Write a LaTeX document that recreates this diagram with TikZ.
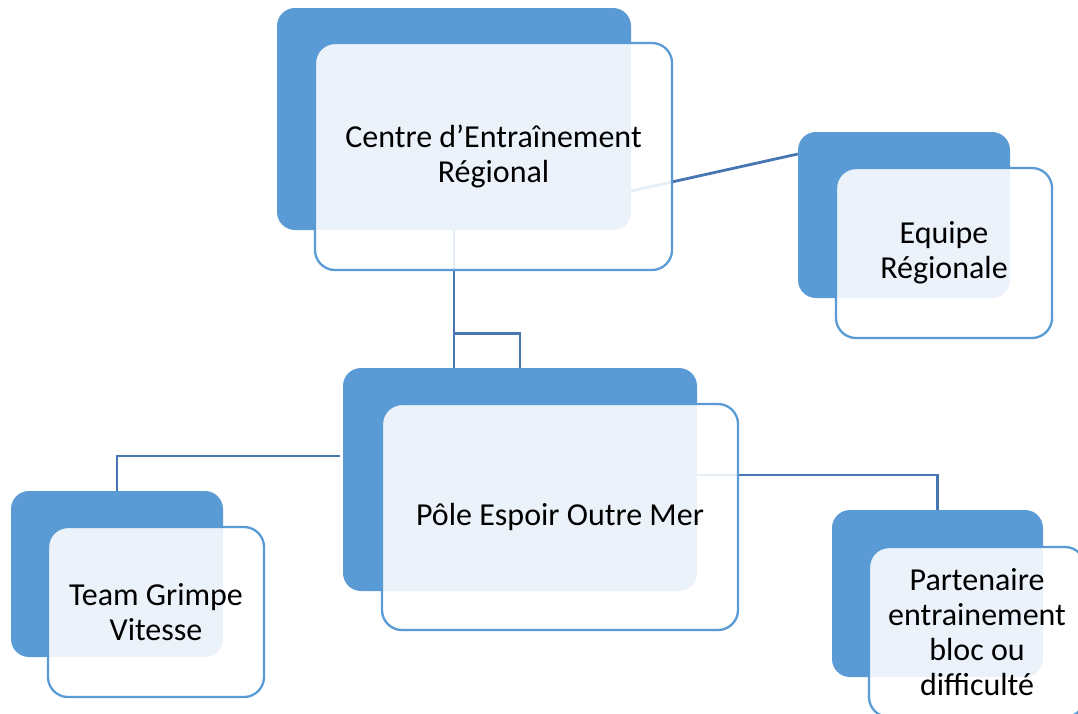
\documentclass[tikz,border=0pt]{standalone}
\usepackage{fontspec}
\setmainfont{Carlito}
\definecolor{boxblue}{HTML}{5B9BD5}
\definecolor{linkblue}{HTML}{4677B3}
\begin{document}
\begin{tikzpicture}[x=1pt,y=-1pt,
  back/.style={draw=none,fill=boxblue,rounded corners=18pt,inner sep=0pt},
  front/.style={draw=boxblue,line width=2.3pt,fill=white,fill opacity=0.88,rounded corners=20pt,inner sep=0pt},
  label/.style={align=center,font=\fontsize{32}{35}\selectfont,text=black,inner sep=0pt},
  link/.style={draw=linkblue,line width=2.8pt}]
\useasboundingbox[fill=white] (0,0) rectangle (1078,713);
% back boxes
\node[back,minimum width=354pt,minimum height=222pt] (cb) at (454,119) {};
\node[back,minimum width=212pt,minimum height=166pt] (eb) at (904,215) {};
\node[back,minimum width=212pt,minimum height=166pt] (tb) at (117,574) {};
\node[back,minimum width=354pt,minimum height=223pt] (pb) at (520,479.5) {};
\node[back,minimum width=211pt,minimum height=167pt] (rb) at (937.5,593.5) {};
% connectors
\draw[link] ([yshift=-72pt]cb.east) -- ([yshift=61pt]eb.west);
\draw[link] (cb.south) -- (cb.south |- pb.north);
\draw[link] ([yshift=-103pt]cb.south) -| (pb.north);
\draw[link] ([xshift=-3pt,yshift=23.5pt]pb.west) -| (tb.north);
\draw[link] ([yshift=4.5pt]pb.east) -| (rb.north);
% front boxes
\node[front,minimum width=357pt,minimum height=227pt] (cf) at (493.5,156.5) {};
\node[front,minimum width=216pt,minimum height=170pt] (ef) at (944,253) {};
\node[front,minimum width=216pt,minimum height=170pt] (tf) at (156,612) {};
\node[front,minimum width=356pt,minimum height=226pt] (pf) at (560,517) {};
\node[front,minimum width=216pt,minimum height=170pt] (rf) at (977,632) {};
% labels
\node[label] (ct) at (cf.center) {Centre d’Entraînement\\Régional};
\node[label] (et) at (ef.center) {Equipe\\Régionale};
\node[label] (tt) at (tf.center) {Team Grimpe\\Vitesse};
\node[label] (pt) at (pf.center) {Pôle Espoir Outre Mer};
\node[label] (rt) at (rf.center) {Partenaire\\entrainement\\bloc ou\\difficulté};
\end{tikzpicture}
\end{document}
